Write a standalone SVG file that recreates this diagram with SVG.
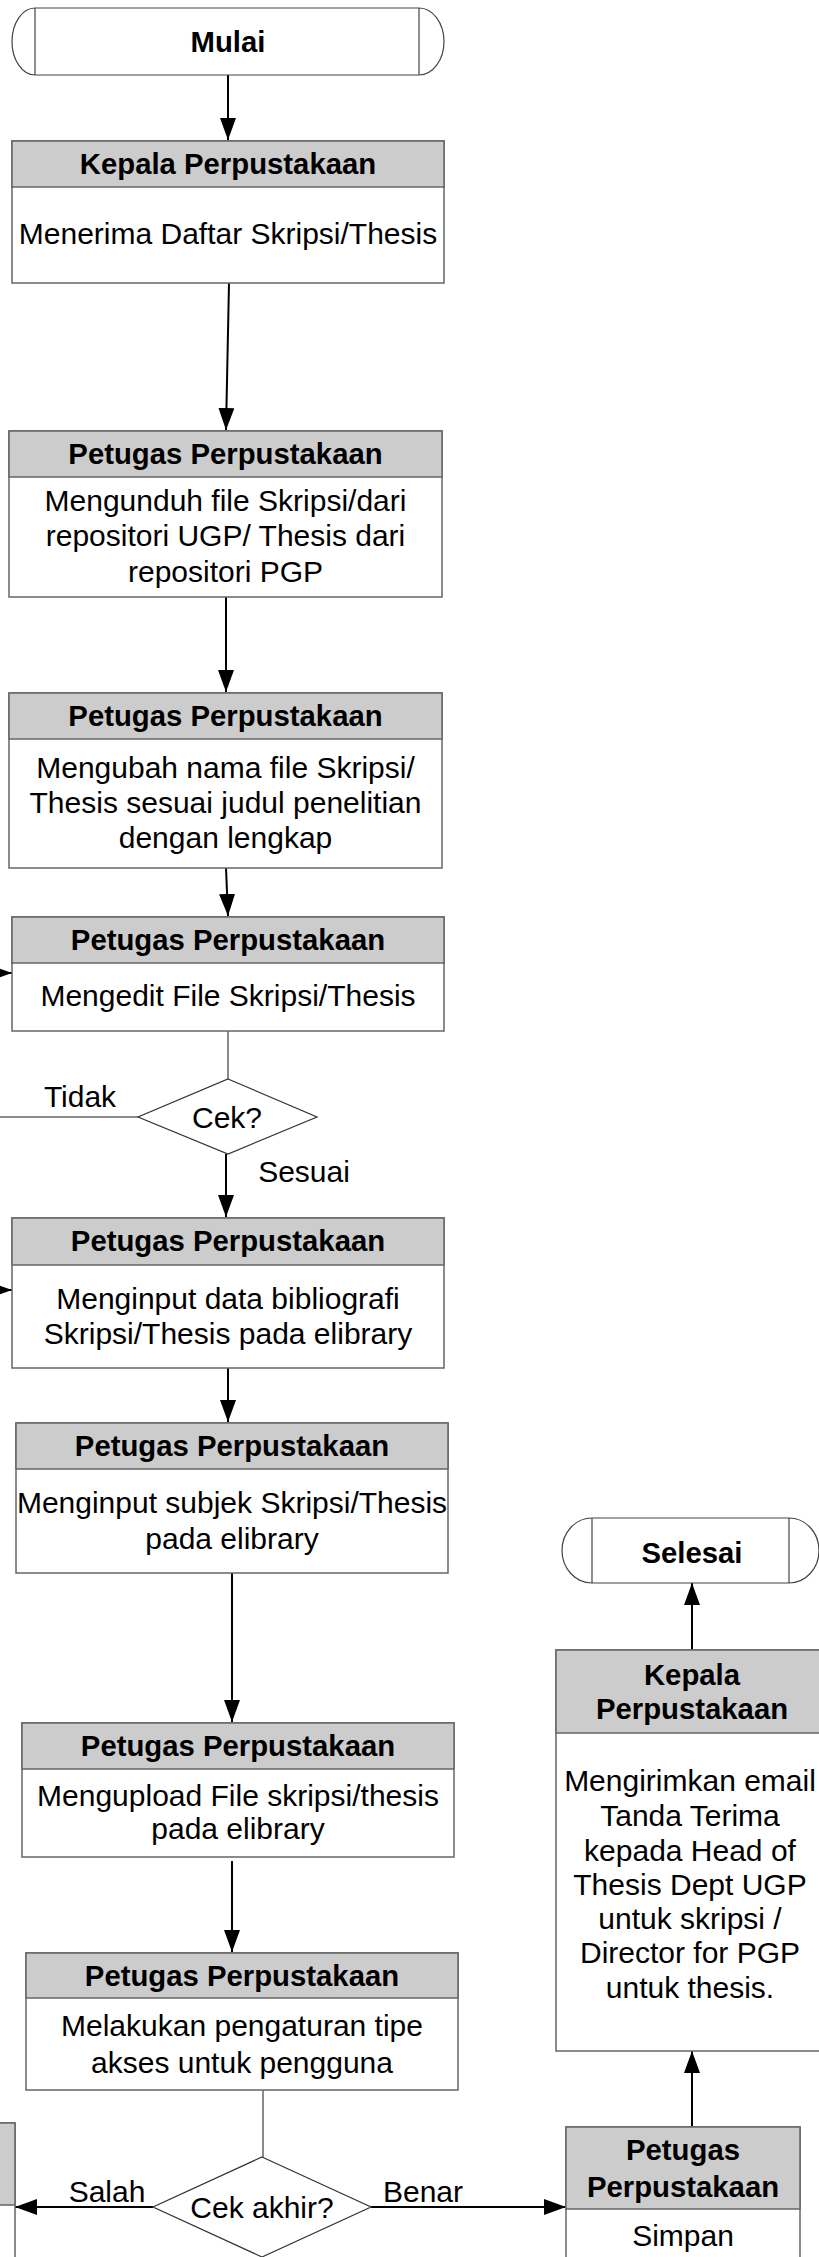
<svg xmlns="http://www.w3.org/2000/svg" width="819" height="2257" viewBox="0 0 819 2257">
<defs>
<marker id="ah" viewBox="0 0 22 16" refX="22" refY="8" markerWidth="22" markerHeight="16" markerUnits="userSpaceOnUse" orient="auto">
<path d="M0,0 L22,8 L0,16 Z" fill="#000"/>
</marker>
<style>
text{font-family:"Liberation Sans",Arial,sans-serif;font-size:30px;fill:#000;text-anchor:middle}
.b{font-weight:bold;font-size:29.3px}
.box{fill:#fff;stroke:#666;stroke-width:1.5}
.hdr{fill:#cccccc;stroke:#666;stroke-width:1.5}
.term{fill:#fff;stroke:#444;stroke-width:1.2}
.dia{fill:#fff;stroke:#333;stroke-width:1.2}
.arr{fill:none;stroke:#000;stroke-width:2;marker-end:url(#ah)}
.ln{fill:none;stroke:#666;stroke-width:1.5}
</style>
</defs>
<rect width="819" height="2257" fill="#fff"/>

<g id="connectors">
<path class="arr" d="M228,75 L228,140"/>
<path class="arr" d="M229,283 L226,430"/>
<path class="arr" d="M226,597 L226,692"/>
<path class="arr" d="M226,868 L228,916"/>
<path class="ln" d="M228,1031 L228,1079"/>
<path class="ln" d="M138,1117 L0,1117"/>
<path class="arr" d="M-60,973 L12,973"/>
<path class="arr" d="M-60,1290 L12,1290"/>
<path class="arr" d="M226,1154 L226,1217"/>
<path class="arr" d="M228,1368 L228,1422"/>
<path class="arr" d="M232,1573 L232,1722"/>
<path class="arr" d="M232,1861 L232,1952"/>
<path class="ln" d="M263,2090 L263,2157"/>
<path class="arr" d="M153,2207 L15,2207"/>
<path class="arr" d="M371,2207 L566,2207"/>
<path class="arr" d="M692,2127 L692,2051"/>
<path class="arr" d="M692,1650 L692,1583"/>
<text x="80" y="1107">Tidak</text>
<text x="304" y="1182">Sesuai</text>
<text x="107" y="2202">Salah</text>
<text x="423" y="2202">Benar</text>
</g>

<g id="mulai">
<path class="term" d="M35,8 L419,8 A25,33.5 0 0 1 419,75 L35,75 A23,33.5 0 0 1 35,8 Z"/>
<path class="term" d="M35,8 L35,75 M419,8 L419,75"/>
<text class="b" x="228" y="52">Mulai</text>
</g>

<g id="kepala1">
<rect class="box" x="12" y="141" width="432" height="142"/>
<rect class="hdr" x="12" y="141" width="432" height="46"/>
<text class="b" x="228" y="174">Kepala Perpustakaan</text>
<text x="228" y="244">Menerima Daftar Skripsi/Thesis</text>
</g>

<g id="petugas1">
<rect class="box" x="9" y="431" width="433" height="166"/>
<rect class="hdr" x="9" y="431" width="433" height="46"/>
<text class="b" x="225.5" y="464">Petugas Perpustakaan</text>
<text x="225.5" y="511">Mengunduh file Skripsi/dari</text>
<text x="225.5" y="546">repositori UGP/ Thesis dari</text>
<text x="225.5" y="582">repositori PGP</text>
</g>

<g id="petugas2">
<rect class="box" x="9" y="693" width="433" height="175"/>
<rect class="hdr" x="9" y="693" width="433" height="46"/>
<text class="b" x="225.5" y="726">Petugas Perpustakaan</text>
<text x="225.5" y="778">Mengubah nama file Skripsi/</text>
<text x="225.5" y="813">Thesis sesuai judul penelitian</text>
<text x="225.5" y="848">dengan lengkap</text>
</g>

<g id="mengedit">
<rect class="box" x="12" y="917" width="432" height="114"/>
<rect class="hdr" x="12" y="917" width="432" height="46"/>
<text class="b" x="228" y="950">Petugas Perpustakaan</text>
<text x="228" y="1006">Mengedit File Skripsi/Thesis</text>
</g>

<g id="cek">
<path class="dia" d="M228,1079 L317,1117 L228,1154 L138,1117 Z"/>
<text x="227" y="1128">Cek?</text>
</g>

<g id="bibliografi">
<rect class="box" x="12" y="1218" width="432" height="150"/>
<rect class="hdr" x="12" y="1218" width="432" height="47"/>
<text class="b" x="228" y="1251">Petugas Perpustakaan</text>
<text x="228" y="1309">Menginput data bibliografi</text>
<text x="228" y="1344">Skripsi/Thesis pada elibrary</text>
</g>

<g id="subjek">
<rect class="box" x="16" y="1423" width="432" height="150"/>
<rect class="hdr" x="16" y="1423" width="432" height="46"/>
<text class="b" x="232" y="1456">Petugas Perpustakaan</text>
<text x="232" y="1513">Menginput subjek Skripsi/Thesis</text>
<text x="232" y="1549">pada elibrary</text>
</g>

<g id="upload">
<rect class="box" x="22" y="1723" width="432" height="134"/>
<rect class="hdr" x="22" y="1723" width="432" height="46"/>
<text class="b" x="238" y="1756">Petugas Perpustakaan</text>
<text x="238" y="1806">Mengupload File skripsi/thesis</text>
<text x="238" y="1839">pada elibrary</text>
</g>

<g id="akses">
<rect class="box" x="26" y="1953" width="432" height="137"/>
<rect class="hdr" x="26" y="1953" width="432" height="45"/>
<text class="b" x="242" y="1986">Petugas Perpustakaan</text>
<text x="242" y="2036">Melakukan pengaturan tipe</text>
<text x="242" y="2073">akses untuk pengguna</text>
</g>

<g id="cekakhir">
<path class="dia" d="M262,2157 L371,2207 L262,2257 L153,2207 Z"/>
<text x="262" y="2218">Cek akhir?</text>
</g>

<g id="leftbox">
<rect class="box" x="-300" y="2123" width="315" height="200"/>
<rect class="hdr" x="-300" y="2123" width="315" height="82"/>
</g>

<g id="simpan">
<rect class="box" x="566" y="2127" width="234" height="200"/>
<rect class="hdr" x="566" y="2127" width="234" height="82"/>
<text class="b" x="683" y="2160">Petugas</text>
<text class="b" x="683" y="2197">Perpustakaan</text>
<text x="683" y="2246">Simpan</text>
</g>

<g id="kepala2">
<rect class="box" x="556" y="1650" width="280" height="401"/>
<rect class="hdr" x="556" y="1650" width="280" height="83"/>
<text class="b" x="692" y="1685">Kepala</text>
<text class="b" x="692" y="1719">Perpustakaan</text>
<text x="690" y="1791">Mengirimkan email</text>
<text x="690" y="1826">Tanda Terima</text>
<text x="690" y="1861">kepada Head of</text>
<text x="690" y="1895">Thesis Dept UGP</text>
<text x="690" y="1929">untuk skripsi /</text>
<text x="690" y="1963">Director for PGP</text>
<text x="690" y="1998">untuk thesis.</text>
</g>

<g id="selesai">
<path class="term" d="M592,1518 L789,1518 A30,32.5 0 0 1 789,1583 L592,1583 A30,32.5 0 0 1 592,1518 Z"/>
<path class="term" d="M592,1518 L592,1583 M789,1518 L789,1583"/>
<text class="b" x="692" y="1563">Selesai</text>
</g>
</svg>
